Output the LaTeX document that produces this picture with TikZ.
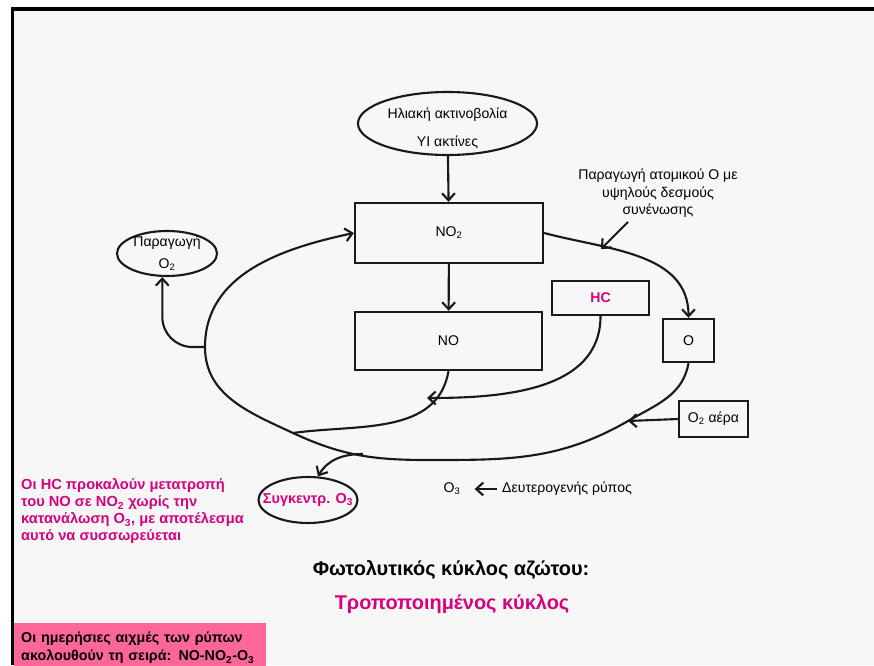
\documentclass[tikz,border=0pt]{standalone}
\usepackage{fontspec}
\setmainfont{Liberation Sans}
\usepackage{tikz}
\usetikzlibrary{shapes.geometric,arrows.meta}

\definecolor{slidegray}{HTML}{F7F7F7}
\definecolor{hcmagenta}{HTML}{D6007F}
\definecolor{notepink}{HTML}{FF6699}

\begin{document}
\begin{tikzpicture}[x=0.03cm, y=0.03cm, font=\fontsize{12}{15}\selectfont,
  >={Straight Barb[length=6pt,width=11pt]},
  link/.style={line width=1.8pt, draw=black!90},
  box/.style={rectangle, draw=black!90, line width=2pt, inner sep=0pt},
  oval/.style={ellipse, draw=black!90, line width=1.8pt, inner sep=0pt, align=center},
  plain/.style={inner sep=0pt}]
  \useasboundingbox (0,0) rectangle (874,665);
  \fill[white] (0,0) rectangle (874,665);
  \fill[slidegray] (12,0) rectangle (874,656);
  \draw[line width=2.6pt] (12.5,0) -- (12.5,656) -- (874,656);

  % boxes and ovals
  \node[oval, minimum width=5.37cm, minimum height=1.89cm, inner ysep=-3pt] (sun) at (447.5,541.5) {\rule{0pt}{17pt}Ηλιακή ακτινοβολία\\[9pt]ΥΙ ακτίνες};
  \node[box, minimum width=5.64cm, minimum height=1.8cm] (NO2) at (449,432) {NO\textsubscript{2}};
  \node[box, minimum width=5.61cm, minimum height=1.74cm] (NO) at (448.5,324) {NO};
  \node[oval, minimum width=3cm, minimum height=1.35cm, inner ysep=-3pt] (prodO2) at (167,411.5) {Παραγωγή\\[4pt]O\textsubscript{2}};
  \node[box, minimum width=2.91cm, minimum height=1.02cm, text=hcmagenta, font=\fontsize{12}{15}\bfseries] (HC) at (600.5,367) {HC};
  \node[box, minimum width=1.53cm, minimum height=1.29cm] (O) at (688.5,324.5) {O};
  \node[box, minimum width=2.07cm, minimum height=1.08cm] (O2air) at (713.5,246) {O\textsubscript{2} αέρα};
  \node[oval, minimum width=2.97cm, minimum height=1.38cm, inner xsep=-10pt, text=hcmagenta, font=\fontsize{12.3}{15}\bfseries] (O3conc) at (308,165) {Συγκεντρ. O\textsubscript{3}};

  % texts
  \node[plain, align=center] (note) at (658,471.5) {Παραγωγή ατομικού Ο με\\υψηλούς δεσμούς\\συνένωσης};
  \node[plain] (O3) at (452,176) {O\textsubscript{3}};
  \node[plain, anchor=west] (secondary) at (502,176) {Δευτερογενής ρύπος};
  \node[plain, anchor=west, align=left, text=hcmagenta, font=\fontsize{12.5}{14.5}\bfseries] (hcnote) at (21,153.5)
    {Οι HC προκαλούν μετατροπή\\του NO σε NO\textsubscript{2} χωρίς την\\κατανάλωση O\textsubscript{3}, με αποτέλεσμα\\αυτό να συσσωρεύεται};
  \node[font=\fontsize{17}{20}\bfseries] (title) at (451,95) {Φωτολυτικός κύκλος αζώτου:};
  \node[font=\fontsize{17}{20}\bfseries, text=hcmagenta] (subtitle) at (452,61) {Τροποποιημένος κύκλος};
  \node[fill=notepink, anchor=south west, minimum width=7.56cm, minimum height=1.5cm, inner xsep=0.21cm,
    text width=7.14cm, align=left, font=\fontsize{12.2}{16}\bfseries] (peaks) at (14,-8)
    {Οι ημερήσιες αιχμές των ρύπων\\ακολουθούν τη σειρά: NO-NO\textsubscript{2}-O\textsubscript{3}};

  % points on the cycle
  \coordinate (loopL) at (205,318);
  \coordinate (loopB) at (427,205);
  \coordinate (joinNO) at (293,232);
  \coordinate (branchO3) at (363,211);
  \coordinate (hcEnd) at (427,267);
  \coordinate (airTip) at (628,244);
  \coordinate (noteTail) at (628,443);
  \coordinate (noteTip) at (601,416);

  % connectors
  \draw[link,->] (sun) -- (NO2);
  \draw[link,->] (NO2) -- (NO);
  \draw[link,->] (NO2.east) to[out=-15,in=90] (O.north);
  \draw[link,->] (O.south) to[out=-100,in=30] (airTip) to[out=210,in=0] (loopB)
    to[out=180,in=-25] (joinNO) to[out=155,in=-90] (loopL) to[out=90,in=192] (NO2.west);
  \draw[link] (NO.south) to[out=-100,in=8] (joinNO);
  \draw[link,->] (HC.south) to[out=-90,in=0] (hcEnd);
  \draw[link,->] (O2air.west) -- (airTip);
  \draw[link,->] (noteTail) -- (noteTip);
  \draw[link,->,rounded corners=0.9cm] (loopL) -| ([xshift=-4pt]prodO2.south);
  \draw[link,->] (branchO3) to[out=180,in=60] (O3conc.67);
  \draw[link,->,shorten >=12pt,shorten <=4pt] (secondary.west) -- (O3.east);
\end{tikzpicture}
\end{document}
